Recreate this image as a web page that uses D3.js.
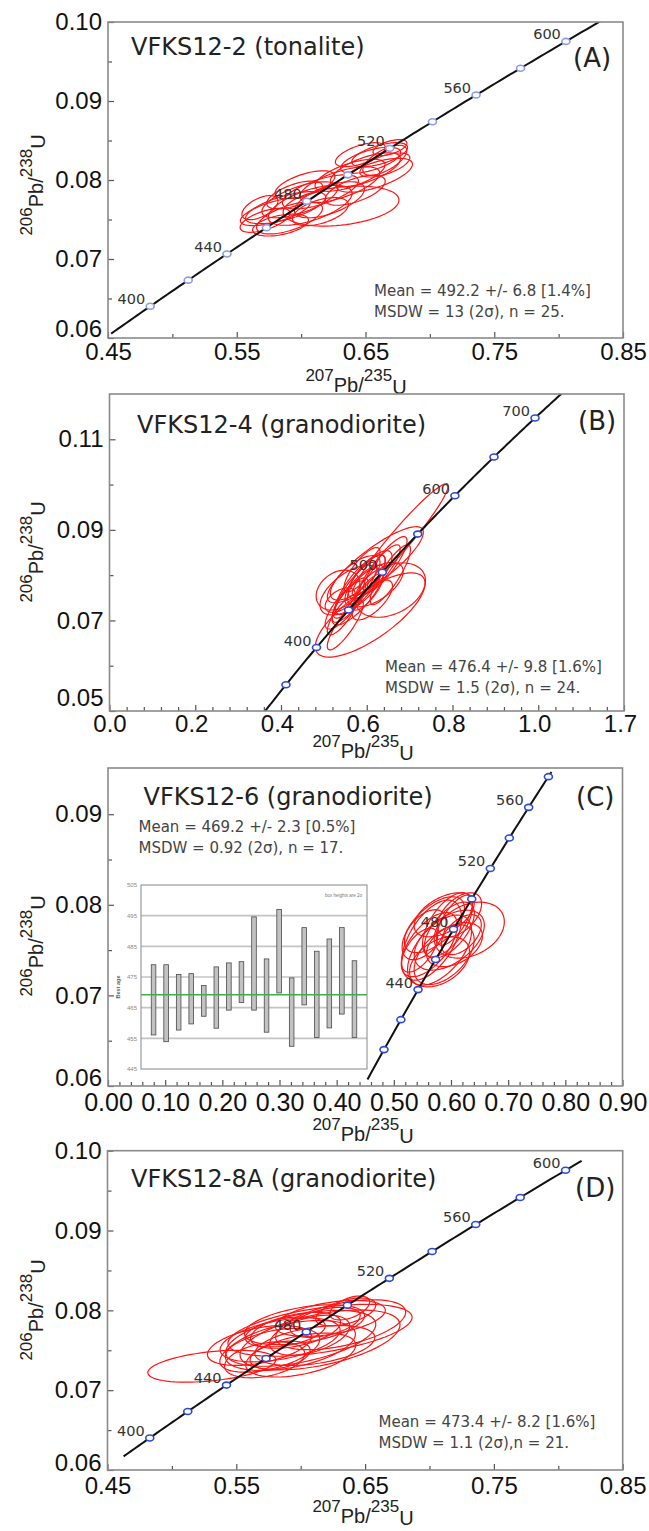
<!DOCTYPE html>
<html>
<head>
<meta charset="utf-8">
<title>U-Pb concordia diagrams</title>
<script src="https://d3js.org/d3.v7.min.js"></script>
<style>
  body { margin: 0; background: #fff; }
  svg { display: block; }
</style>
</head>
<body>
<script>
const W = 649, H = 1531;
const TICKFONT = "'Liberation Sans', Arial, sans-serif";
const TEXTFONT = "'DejaVu Sans', sans-serif";
// decay constants, per Ma
const L238 = 1.55125e-4, L235 = 9.8485e-4;

// ---- panel A : VFKS12-2 ----
const xTicksA = [0.45, 0.55, 0.65, 0.75, 0.85];
const xLabelsA = ["0.45", "0.55", "0.65", "0.75", "0.85"];
const xMinorA = [0.50, 0.60, 0.70, 0.80];
const yTicksA = [0.06, 0.07, 0.08, 0.09, 0.10];
const yLabelsA = ["0.06", "0.07", "0.08", "0.09", "0.10"];
const yMinorA = [0.065, 0.075, 0.085, 0.095];
const agesA = [400, 420, 440, 460, 480, 500, 520, 540, 560, 580, 600];
const ageLabelsA = [400, 440, 480, 520, 560, 600];
const curveA = [379, 616];
const ellAx = [0.580, 0.572, 0.588, 0.599, 0.591, 0.607, 0.615, 0.603, 0.622, 0.630, 0.631, 0.638, 0.642, 0.650, 0.654, 0.657, 0.661, 0.665, 0.669, 0.665, 0.568, 0.595, 0.615, 0.584, 0.646];
const ellAy = [0.0760, 0.0749, 0.0765, 0.0775, 0.0752, 0.0768, 0.0785, 0.0794, 0.0775, 0.0794, 0.0767, 0.0806, 0.0787, 0.0813, 0.0825, 0.0806, 0.0832, 0.0825, 0.0841, 0.0819, 0.0765, 0.0781, 0.0760, 0.0743, 0.0832];
const ellAsx = [0.0272, 0.0194, 0.0311, 0.0295, 0.0256, 0.0326, 0.0295, 0.0233, 0.0272, 0.0311, 0.0450, 0.0272, 0.0233, 0.0272, 0.0233, 0.0295, 0.0217, 0.0171, 0.0132, 0.0194, 0.0140, 0.0217, 0.0217, 0.0217, 0.0194];
const ellAsy = [0.00177, 0.00152, 0.00203, 0.00228, 0.00203, 0.00253, 0.00215, 0.00177, 0.00228, 0.00228, 0.00253, 0.00203, 0.00190, 0.00215, 0.00165, 0.00215, 0.00152, 0.00190, 0.00101, 0.00152, 0.00152, 0.00177, 0.00177, 0.00139, 0.00152];
const ellArho = [0.65, 0.6, 0.65, 0.65, 0.6, 0.6, 0.65, 0.6, 0.6, 0.65, 0.3, 0.65, 0.6, 0.65, 0.6, 0.65, 0.6, 0.65, 0.55, 0.6, 0.55, 0.6, 0.5, 0.45, 0.6];

// ---- panel B : VFKS12-4 ----
const xTicksB = [0, 0.2, 0.4, 0.6, 0.8, 1.0, 1.2];
const xLabelsB = ["0.0", "0.2", "0.4", "0.6", "0.8", "1.0", "1.7"];
const xMinorB = [0.04, 0.08, 0.12, 0.16, 0.24, 0.28, 0.32, 0.36, 0.44, 0.48, 0.52, 0.56, 0.64, 0.68, 0.72, 0.76, 0.84, 0.88, 0.92, 0.96, 1.04, 1.08, 1.12, 1.16];
const yTicksB = [0.05, 0.07, 0.09, 0.11];
const yLabelsB = ["0.05", "0.07", "0.09", "0.11"];
const yMinorB = [0.06, 0.08, 0.10];
const agesB = [350, 400, 450, 500, 550, 600, 650, 700];
const ageLabelsB = [400, 500, 600, 700];
const curveB = [314, 732];
const ellBx = [0.678, 0.620, 0.608, 0.533, 0.655, 0.573, 0.585, 0.596, 0.561, 0.608, 0.580, 0.550, 0.620, 0.589, 0.631, 0.561, 0.543, 0.603, 0.643, 0.573, 0.550, 0.613, 0.655, 0.538];
const ellBy = [0.0878, 0.0823, 0.0712, 0.0767, 0.0767, 0.0767, 0.0779, 0.0790, 0.0745, 0.0801, 0.0756, 0.0734, 0.0779, 0.0812, 0.0812, 0.0767, 0.0712, 0.0763, 0.0823, 0.0794, 0.0690, 0.0745, 0.0801, 0.0745];
const ellBsx = [0.112, 0.112, 0.128, 0.051, 0.082, 0.051, 0.058, 0.047, 0.042, 0.051, 0.061, 0.047, 0.065, 0.042, 0.047, 0.070, 0.035, 0.035, 0.051, 0.058, 0.042, 0.047, 0.047, 0.035];
const ellBsy = [0.0124, 0.0084, 0.0093, 0.0044, 0.0060, 0.0062, 0.0066, 0.0055, 0.0049, 0.0053, 0.0066, 0.0053, 0.0049, 0.0049, 0.0055, 0.0055, 0.0044, 0.0040, 0.0062, 0.0049, 0.0055, 0.0044, 0.0066, 0.0027];
const ellBrho = [0.96, 0.85, 0.75, 0.3, 0.35, 0.85, 0.8, 0.8, 0.8, 0.75, 0.8, 0.8, 0.6, 0.8, 0.85, 0.6, 0.8, 0.8, 0.85, 0.7, 0.85, 0.7, 0.85, 0.5];

// ---- panel C : VFKS12-6 ----
const xTicksC = [0, 0.1, 0.2, 0.3, 0.4, 0.5, 0.6, 0.7, 0.8, 0.9];
const xLabelsC = ["0.00", "0.10", "0.20", "0.30", "0.40", "0.50", "0.60", "0.70", "0.80", "0.90"];
const xMinorC = [0.02, 0.04, 0.06, 0.08, 0.12, 0.14, 0.16, 0.18, 0.22, 0.24, 0.26, 0.28, 0.32, 0.34, 0.36, 0.38, 0.42, 0.44, 0.46, 0.48, 0.52, 0.54, 0.56, 0.58, 0.62, 0.64, 0.66, 0.68, 0.72, 0.74, 0.76, 0.78, 0.82, 0.84, 0.86, 0.88];
const yTicksC = [0.06, 0.07, 0.08, 0.09];
const yLabelsC = ["0.06", "0.07", "0.08", "0.09"];
const yMinorC = [0.065, 0.075, 0.085];
const agesC = [400, 420, 440, 460, 480, 500, 520, 540, 560, 580];
const ageLabelsC = [440, 480, 520, 560];
const curveC = [380, 583];
const ellCx = [0.632, 0.588, 0.562, 0.580, 0.597, 0.553, 0.606, 0.588, 0.615, 0.571, 0.580, 0.545, 0.606, 0.597, 0.566, 0.618, 0.594];
const ellCy = [0.0772, 0.0789, 0.0756, 0.0750, 0.0772, 0.0767, 0.0756, 0.0745, 0.0789, 0.0778, 0.0737, 0.0750, 0.0783, 0.0761, 0.0761, 0.0767, 0.0778];
const ellCsx = [0.0613, 0.0525, 0.0490, 0.0560, 0.0438, 0.0385, 0.0490, 0.0525, 0.0385, 0.0525, 0.0525, 0.0315, 0.0315, 0.0613, 0.0525, 0.0350, 0.0438];
const ellCsy = [0.00309, 0.00243, 0.00354, 0.00387, 0.00309, 0.00276, 0.00243, 0.00331, 0.00243, 0.00309, 0.00276, 0.00243, 0.00276, 0.00331, 0.00442, 0.00221, 0.00354];
const ellCrho = [0.3, 0.5, 0.6, 0.55, 0.6, 0.5, 0.4, 0.5, 0.5, 0.6, 0.4, 0.6, 0.7, 0.5, 0.55, 0.5, 0.6];
// inset: best ages with 2 sigma boxes
const insetAgeTop = [479.0, 479.0, 475.8, 476.1, 472.2, 478.3, 479.6, 480.0, 494.6, 480.9, 497.0, 474.7, 491.1, 483.4, 487.4, 491.1, 480.3];
const insetAgeBottom = [456.1, 453.9, 457.7, 459.7, 462.2, 458.3, 464.2, 466.7, 464.2, 457.0, 469.8, 452.4, 465.9, 455.3, 458.4, 462.9, 455.3];
const insetTicks = [445, 455, 465, 475, 485, 495, 505];
const insetGrid = [455, 465, 475, 485, 495];
const insetMean = 469.2;

// ---- panel D : VFKS12-8A ----
const agesD = [400, 420, 440, 460, 480, 500, 520, 540, 560, 580, 600];
const ageLabelsD = [400, 440, 480, 520, 560, 600];
const curveD = [386, 607];
const ellDx = [0.531, 0.615, 0.600, 0.592, 0.584, 0.603, 0.623, 0.635, 0.576, 0.568, 0.596, 0.615, 0.607, 0.588, 0.631, 0.600, 0.572, 0.619, 0.638, 0.584, 0.611];
const ellDy = [0.0730, 0.0775, 0.0765, 0.0756, 0.0763, 0.0782, 0.0790, 0.0798, 0.0750, 0.0756, 0.0775, 0.0763, 0.0769, 0.0773, 0.0782, 0.0744, 0.0738, 0.0785, 0.0803, 0.0744, 0.0756];
const ellDsx = [0.0497, 0.0715, 0.0583, 0.0505, 0.0466, 0.0466, 0.0427, 0.0233, 0.0388, 0.0404, 0.0350, 0.0621, 0.0311, 0.0311, 0.0505, 0.0427, 0.0311, 0.0272, 0.0155, 0.0233, 0.0466];
const ellDsy = [0.00200, 0.00325, 0.00350, 0.00313, 0.00275, 0.00250, 0.00225, 0.00175, 0.00275, 0.00250, 0.00225, 0.00375, 0.00250, 0.00188, 0.00313, 0.00275, 0.00225, 0.00188, 0.00150, 0.00175, 0.00250];
const ellDrho = [0.4, 0.5, 0.5, 0.45, 0.45, 0.45, 0.45, 0.5, 0.5, 0.45, 0.45, 0.5, 0.45, 0.4, 0.5, 0.45, 0.35, 0.45, 0.5, 0.35, 0.4];

const panels = [
  { id: "A", box: { l: 108, r: 623, t: 22, b: 338 }, xDom: [0.45, 0.85], yDom: [0.06, 0.10],
    xTicks: xTicksA, xLabels: xLabelsA, xMinor: xMinorA, yTicks: yTicksA, yLabels: yLabelsA, yMinor: yMinorA,
    xPad: 5, xDx: 0, lowNudge: 9,
    ages: agesA, ageLabels: ageLabelsA, curve: curveA, mColor: "#8c9be6",
    ell: [ellAx, ellAy, ellAsx, ellAsy, ellArho],
    title: "VFKS12-2 (tonalite)", titlePos: [131, 55], tag: "(A)", tagPos: [573, 67],
    stats: ["Mean = 492.2 +/- 6.8 [1.4%]", "MSDW = 13 (2\u03c3), n = 25."], statsPos: [374, 296],
    xTitleX: 356, xTitleDy: 43, yTitleY: 185 },
  { id: "B", box: { l: 109.5, r: 624, t: 394, b: 711 }, xDom: [0, 1.2], yDom: [0.05, 0.12],
    xTicks: xTicksB, xLabels: xLabelsB, xMinor: xMinorB, yTicks: yTicksB, yLabels: yLabelsB, yMinor: yMinorB,
    xPad: 4, xDx: -4, lowNudge: 13,
    ages: agesB, ageLabels: ageLabelsB, curve: curveB, mColor: "#2b4bd4",
    ell: [ellBx, ellBy, ellBsx, ellBsy, ellBrho],
    title: "VFKS12-4 (granodiorite)", titlePos: [137, 433], tag: "(B)", tagPos: [578, 430],
    stats: ["Mean = 476.4 +/- 9.8 [1.6%]", "MSDW = 1.5 (2\u03c3), n = 24."], statsPos: [385, 672],
    xTitleX: 363, xTitleDy: 36, yTitleY: 552 },
  { id: "C", box: { l: 108, r: 622.5, t: 768, b: 1086 }, xDom: [0, 0.9], yDom: [0.06, 0.0951],
    xTicks: xTicksC, xLabels: xLabelsC, xMinor: xMinorC, yTicks: yTicksC, yLabels: yLabelsC, yMinor: yMinorC,
    xPad: 7, xDx: 0, lowNudge: 8, xFont: 25,
    ages: agesC, ageLabels: ageLabelsC, curve: curveC, mColor: "#2b4bd4",
    ell: [ellCx, ellCy, ellCsx, ellCsy, ellCrho],
    title: "VFKS12-6 (granodiorite)", titlePos: [143.5, 805], tag: "(C)", tagPos: [576, 806],
    stats: ["Mean = 469.2 +/- 2.3 [0.5%]", "MSDW = 0.92 (2\u03c3), n = 17."], statsPos: [138.5, 832],
    xTitleX: 363, xTitleDy: 44, yTitleY: 946 },
  { id: "D", box: { l: 107.5, r: 622.7, t: 1150.7, b: 1470 }, xDom: [0.45, 0.85], yDom: [0.06, 0.10],
    xTicks: xTicksA, xLabels: xLabelsA, xMinor: xMinorA, yTicks: yTicksA, yLabels: yLabelsA, yMinor: yMinorA,
    xPad: 7, xDx: 0, lowNudge: 7,
    ages: agesD, ageLabels: ageLabelsD, curve: curveD, mColor: "#2b4bd4",
    ell: [ellDx, ellDy, ellDsx, ellDsy, ellDrho],
    title: "VFKS12-8A (granodiorite)", titlePos: [131, 1187], tag: "(D)", tagPos: [575, 1197],
    stats: ["Mean = 473.4 +/- 8.2 [1.6%]", "MSDW = 1.1 (2\u03c3),n = 21."], statsPos: [378.5, 1427],
    xTitleX: 363, xTitleDy: 42, yTitleY: 1310 }
];

const svg = d3.select("body").append("svg")
  .attr("width", W).attr("height", H)
  .style("background", "#fff");

function concordia(t) {
  return [Math.exp(L235 * t) - 1, Math.exp(L238 * t) - 1];
}

function ellipsePoints(cx, cy, sx, sy, rho) {
  const k = Math.sqrt(1 - rho * rho);
  return d3.range(72).map(i => {
    const a = i / 72 * 2 * Math.PI;
    return [cx + sx * Math.cos(a), cy + sy * (rho * Math.cos(a) + k * Math.sin(a))];
  });
}

// isotope ratio title, numbers raised, element symbols lowered
function ratioTitle(sel, a, b) {
  sel.append("tspan").attr("font-size", 17).text(a);
  sel.append("tspan").attr("font-size", 20).attr("dy", 11).text("Pb/");
  sel.append("tspan").attr("font-size", 17).attr("dy", -11).text(b);
  sel.append("tspan").attr("font-size", 20).attr("dy", 13).text("U");
}

panels.forEach(p => {
  const b = p.box;
  const x = d3.scaleLinear().domain(p.xDom).range([b.l, b.r]);
  const y = d3.scaleLinear().domain(p.yDom).range([b.b, b.t]);
  const g = svg.append("g").attr("class", "panel-" + p.id);

  g.append("clipPath").attr("id", "clip" + p.id)
    .append("rect").attr("x", b.l).attr("y", b.t).attr("width", b.r - b.l).attr("height", b.b - b.t);

  const plot = g.append("g").attr("clip-path", "url(#clip" + p.id + ")");

  // error ellipses
  const line = d3.line().x(d => x(d[0])).y(d => y(d[1])).curve(d3.curveLinearClosed);
  const [ex, ey, esx, esy, erho] = p.ell;
  plot.selectAll("path.ell").data(ex.map((v, i) => ellipsePoints(v, ey[i], esx[i], esy[i], erho[i])))
    .enter().append("path").attr("class", "ell")
    .attr("d", line)
    .attr("fill", "none").attr("stroke", "#ff1414").attr("stroke-width", 1.2);

  // concordia curve
  const cLine = d3.line().x(d => x(d[0])).y(d => y(d[1]));
  const tt = d3.range(p.curve[0], p.curve[1], 2).concat([p.curve[1]]);
  plot.append("path").attr("d", cLine(tt.map(concordia)))
    .attr("fill", "none").attr("stroke", "#111").attr("stroke-width", 2);

  // age markers
  g.selectAll("ellipse.mk").data(p.ages).enter().append("ellipse")
    .attr("cx", d => x(concordia(d)[0])).attr("cy", d => y(concordia(d)[1]))
    .attr("rx", 4).attr("ry", 3)
    .attr("fill", "#fff").attr("stroke", p.mColor).attr("stroke-width", 1.6);
  g.selectAll("text.mk").data(p.ageLabels).enter().append("text")
    .attr("x", d => x(concordia(d)[0]) - 5).attr("y", d => y(concordia(d)[1]) - 2)
    .attr("text-anchor", "end")
    .attr("font-family", TEXTFONT).attr("font-size", 14.5).attr("fill", "#333")
    .text(d => d);

  // axes (ticks inward)
  const xAx = g.append("g").attr("transform", `translate(0,${b.b})`)
    .call(d3.axisBottom(x).tickValues(p.xTicks).tickSize(-6).tickPadding(p.xPad)
      .tickFormat((d, i) => p.xLabels[i]));
  xAx.selectAll("text").attr("font-family", TICKFONT).attr("font-size", p.xFont || 24)
    .attr("fill", "#111").attr("dx", (d, i) => i === 0 ? 0 : p.xDx);
  g.append("g").attr("transform", `translate(0,${b.b})`)
    .call(d3.axisBottom(x).tickValues(p.xMinor).tickSize(-4).tickFormat(""));

  const yAx = g.append("g").attr("transform", `translate(${b.l},0)`)
    .call(d3.axisLeft(y).tickValues(p.yTicks).tickSize(-6).tickPadding(6)
      .tickFormat((d, i) => p.yLabels[i]));
  yAx.selectAll("text").attr("font-family", TICKFONT).attr("font-size", 24).attr("fill", "#111")
    .attr("y", (d, i) => i === 0 ? -p.lowNudge : 0);
  g.append("g").attr("transform", `translate(${b.l},0)`)
    .call(d3.axisLeft(y).tickValues(p.yMinor).tickSize(-4).tickFormat(""));

  g.selectAll(".domain").remove();
  g.selectAll(".tick line").attr("stroke", "#555").attr("stroke-width", 1.2);

  // frame
  g.append("rect").attr("x", b.l).attr("y", b.t).attr("width", b.r - b.l).attr("height", b.b - b.t)
    .attr("fill", "none").attr("stroke", "#8a8a8a").attr("stroke-width", 1.6);

  // texts
  g.append("text").attr("x", p.titlePos[0]).attr("y", p.titlePos[1])
    .attr("font-family", TEXTFONT).attr("font-size", 24).attr("fill", "#222").text(p.title);
  g.append("text").attr("x", p.tagPos[0]).attr("y", p.tagPos[1])
    .attr("font-family", TEXTFONT).attr("font-size", 26).attr("fill", "#222").text(p.tag);
  p.stats.forEach((s, i) => {
    g.append("text").attr("x", p.statsPos[0]).attr("y", p.statsPos[1] + i * 21)
      .attr("font-family", TEXTFONT).attr("font-size", 15).attr("fill", "#444").text(s);
  });

  const xt = g.append("text").attr("x", p.xTitleX).attr("y", b.b + p.xTitleDy)
    .attr("text-anchor", "middle").attr("font-family", TICKFONT).attr("fill", "#222");
  ratioTitle(xt, "207", "235");
  const yt = g.append("text").attr("transform", `translate(32,${p.yTitleY}) rotate(-90)`)
    .attr("text-anchor", "middle").attr("font-family", TICKFONT).attr("fill", "#222");
  ratioTitle(yt, "206", "238");

  if (p.id === "C") drawInset(g);
});

function drawInset(g) {
  const box = { l: 141, r: 367, t: 885, b: 1069 };
  const ix = d3.scaleLinear().domain([0, insetAgeTop.length + 1]).range([box.l, box.r]);
  const iy = d3.scaleLinear().domain([445, 505]).range([box.b, box.t]);
  const ins = g.append("g").attr("class", "inset");
  ins.append("clipPath").attr("id", "clipInset")
    .append("rect").attr("x", box.l).attr("y", box.t).attr("width", box.r - box.l).attr("height", box.b - box.t);
  ins.append("rect").attr("x", box.l).attr("y", box.t).attr("width", box.r - box.l).attr("height", box.b - box.t)
    .attr("fill", "#fff");
  ins.selectAll("line.grid").data(insetGrid).enter().append("line")
    .attr("x1", box.l).attr("x2", box.r).attr("y1", d => iy(d)).attr("y2", d => iy(d))
    .attr("stroke", "#c4c4c4").attr("stroke-width", 1.6);
  ins.selectAll("rect.bar").data(insetAgeTop).enter().append("rect")
    .attr("x", (d, i) => ix(i + 1) - 2.3).attr("width", 4.6)
    .attr("y", d => iy(d)).attr("height", (d, i) => iy(insetAgeBottom[i]) - iy(d))
    .attr("fill", "#c2c2c2").attr("stroke", "#4a4a4a").attr("stroke-width", 0.8);
  ins.append("line").attr("x1", box.l).attr("x2", box.r)
    .attr("y1", iy(insetMean)).attr("y2", iy(insetMean))
    .attr("stroke", "#3fae4a").attr("stroke-width", 1.6);
  const ay = ins.append("g").attr("transform", `translate(${box.l},0)`)
    .call(d3.axisLeft(iy).tickValues(insetTicks).tickSize(0).tickPadding(4).tickFormat(d3.format("d")));
  ay.select(".domain").remove();
  ay.selectAll("text").attr("font-family", TICKFONT).attr("font-size", 6).attr("fill", "#888");
  ins.append("rect").attr("x", box.l).attr("y", box.t).attr("width", box.r - box.l).attr("height", box.b - box.t)
    .attr("fill", "none").attr("stroke", "#888").attr("stroke-width", 1);
  ins.append("text").attr("transform", `translate(120,${(box.t + box.b) / 2 + 10}) rotate(-90)`)
    .attr("text-anchor", "middle").attr("font-family", TICKFONT).attr("font-size", 5.5)
    .attr("font-weight", "bold").attr("fill", "#666").text("Best age");
  ins.append("text").attr("x", 325).attr("y", 897).attr("clip-path", "url(#clipInset)")
    .attr("font-family", TICKFONT).attr("font-size", 4.5).attr("fill", "#777").text("box heights are 2\u03c3");
}
</script>
</body>
</html>
